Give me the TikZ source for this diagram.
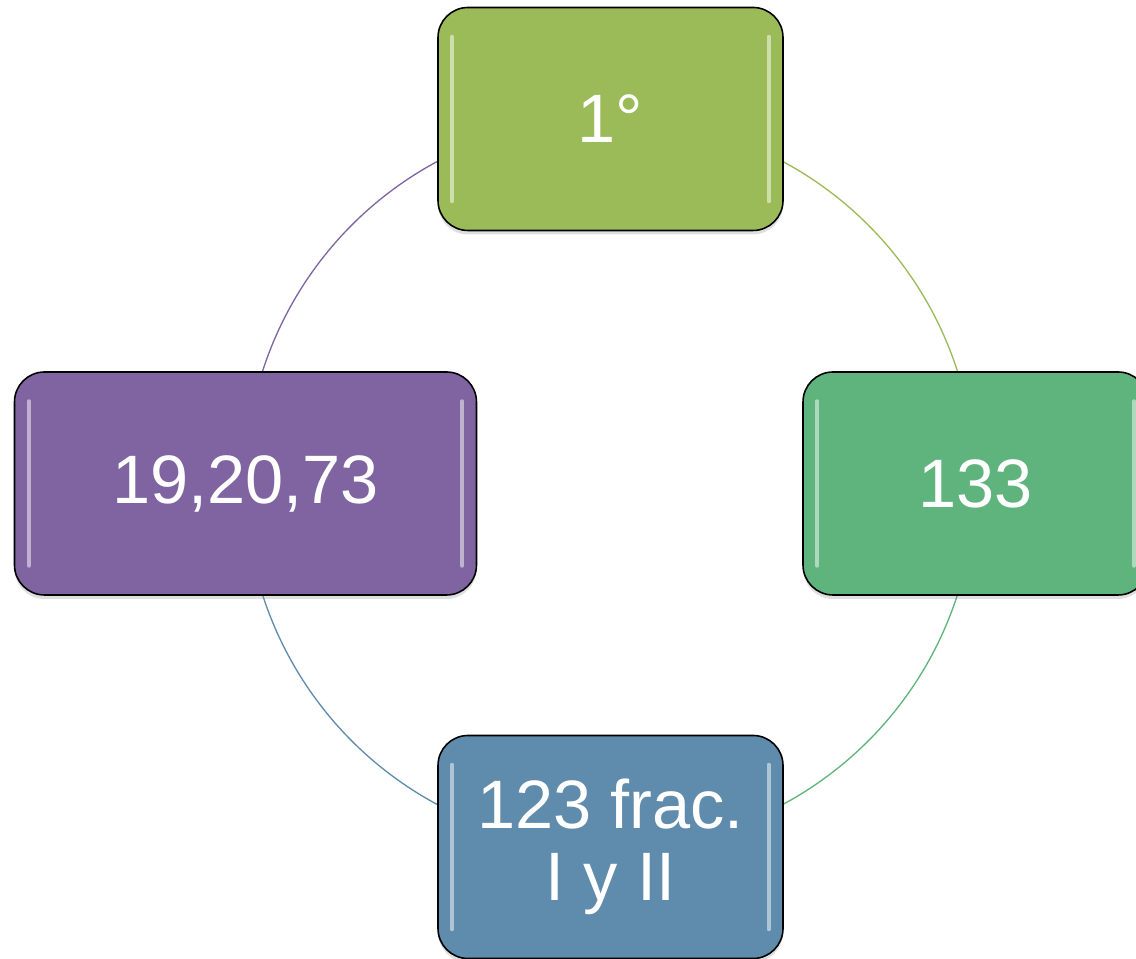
\documentclass[tikz,border=0pt]{standalone}
\usepackage{fontspec}
\setmainfont{Liberation Sans}
\usepackage{tikz}
\usetikzlibrary{positioning, calc, shadows}

\definecolor{olivebox}{HTML}{9BBB59}
\definecolor{greenbox}{HTML}{5FB37C}
\definecolor{bluebox}{HTML}{5F8BAD}
\definecolor{purplebox}{HTML}{8064A2}

\tikzstyle{card} = [draw=black, line width=0.9pt, rounded corners=0.6cm, text=white,
  minimum width=6.9cm, minimum height=4.46cm, align=center,
  font=\fontsize{39}{41}\selectfont,
  drop shadow={opacity=0.25, shadow xshift=0cm, shadow yshift=-0.08cm}]
\tikzstyle{ring} = [line width=0.75pt]
\tikzstyle{gloss} = [white, opacity=0.5, line width=2.2pt, line cap=round]

\begin{document}
\begin{tikzpicture}
\clip (0,0) rectangle (22.72,19.18);

% Circle centre
\coordinate (c) at (12.2,9.52);

% Ring arcs (behind the boxes)
\draw[ring, olivebox] ([shift={(61.8:7.3)}]c) arc (61.8:17.7:7.3);
\draw[ring, greenbox] ([shift={(-17.7:7.3)}]c) arc (-17.7:-61.8:7.3);
\draw[ring, bluebox] ([shift={(-118.2:7.3)}]c) arc (-118.2:-162.3:7.3);
\draw[ring, purplebox] ([shift={(162.3:7.3)}]c) arc (162.3:118.2:7.3);

% Boxes
\node[card, fill=olivebox] (grado) at (12.21,16.80) {1°};
\node[card, fill=greenbox] (art133) at (19.51,9.51) {133};
\node[card, fill=bluebox] (art123) at (12.21,2.24) {123 frac.\\I y II};
\node[card, fill=purplebox, minimum width=9.24cm] (arts) at (4.91,9.51) {19,20,73};

% Glossy edges
\foreach \n in {grado, art133, art123, arts} {
  \draw[gloss] ([xshift=0.3cm,yshift=-0.6cm]\n.north west) -- ([xshift=0.3cm,yshift=0.6cm]\n.south west);
  \draw[gloss] ([xshift=-0.3cm,yshift=-0.6cm]\n.north east) -- ([xshift=-0.3cm,yshift=0.6cm]\n.south east);
}
\end{tikzpicture}
\end{document}
